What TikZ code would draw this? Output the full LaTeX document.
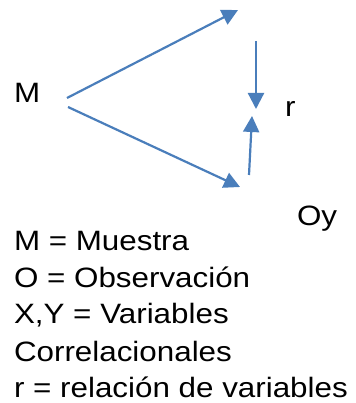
\documentclass[tikz,border=0pt]{standalone}
\usepackage{fontspec}
\setmainfont{Liberation Sans}[FakeStretch=1.12]
\usetikzlibrary{arrows.meta}
\definecolor{arrowblue}{HTML}{4A7EBB}
\tikzset{
  lbl/.style={anchor=base west, inner sep=0pt, outer sep=0pt, font=\fontsize{28}{34}\selectfont},
  conn/.style={draw=arrowblue, line width=2.2pt, -{Triangle[length=16pt,width=16pt]}, fill=none},
}
\begin{document}
\begin{tikzpicture}[x=1pt,y=-1pt]
\useasboundingbox (0,0) rectangle (355,403);
% labels
\node[lbl] (M) at (14,103) {M};
\node[lbl] (r) at (285,117) {r};
\node[lbl] (Oy) at (297,225) {Oy};
\node[lbl] (l1) at (14,250) {M = Muestra};
\node[lbl] (l2) at (14,287) {O = Observación};
\node[lbl] (l3) at (14,323) {X,Y = Variables};
\node[lbl] (l4) at (14,361) {Correlacionales};
\node[lbl] (l5) at (14,397) {r = relación de variables};
% connector ends
\coordinate (a1s) at (67,98);
\coordinate (a1e) at (238,10);
\coordinate (a2s) at (68,107);
\coordinate (a2e) at (240,187);
\coordinate (a3s) at (256,41);
\coordinate (a3e) at (256,109);
\coordinate (a4s) at (249,175);
\coordinate (a4e) at (252,116);
\draw[conn] (a1s) -- (a1e);
\draw[conn] (a2s) -- (a2e);
\draw[conn] (a3s) -- (a3e);
\draw[conn] (a4s) -- (a4e);
\end{tikzpicture}
\end{document}
